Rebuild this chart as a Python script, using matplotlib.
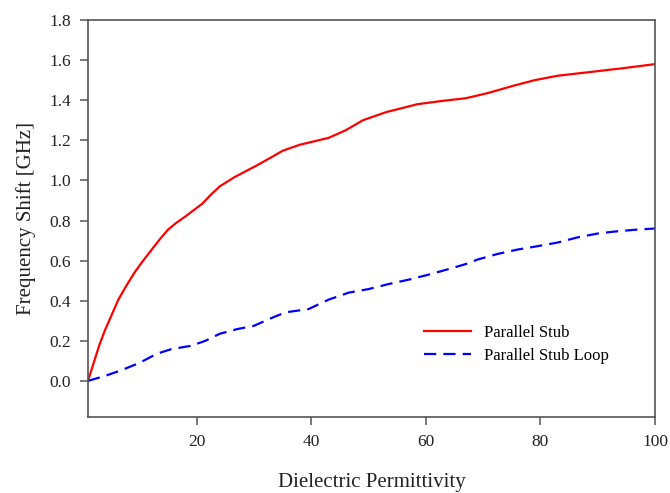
import matplotlib
matplotlib.use("Agg")
import matplotlib.pyplot as plt

# Frequency shift vs. dielectric permittivity
stub_eps = [1, 1.5, 2, 3, 4, 5, 6.3, 7.5, 9, 10.5, 12, 13.5, 15, 16.5, 18, 21,
            22.5, 24, 26.5, 28.5, 30.5, 33, 35, 38, 40.5, 43, 46, 49, 53, 58.5,
            63, 67, 71, 75, 79, 83, 88.5, 94.5, 100]
stub_shift = [0.0, 0.045, 0.09, 0.18, 0.255, 0.32, 0.405, 0.465, 0.535, 0.595,
              0.65, 0.705, 0.755, 0.79, 0.82, 0.885, 0.93, 0.97, 1.015, 1.045,
              1.075, 1.115, 1.148, 1.178, 1.195, 1.212, 1.25, 1.3, 1.34, 1.38,
              1.397, 1.41, 1.437, 1.47, 1.5, 1.522, 1.54, 1.56, 1.58]

loop_eps = [1, 4, 7, 10, 13, 15.5, 19, 21.5, 24, 27, 30, 33, 35.5, 39.5, 43,
            46.5, 50, 53.5, 57, 60.5, 64, 67, 69, 72.5, 76, 79.5, 83, 86.5,
            90, 93, 97, 100]
loop_shift = [0.0, 0.025, 0.055, 0.09, 0.135, 0.158, 0.175, 0.2, 0.235, 0.258,
              0.275, 0.313, 0.342, 0.358, 0.405, 0.44, 0.458, 0.483, 0.505,
              0.53, 0.558, 0.583, 0.605, 0.633, 0.655, 0.672, 0.69, 0.716,
              0.735, 0.745, 0.755, 0.76]

x_ticks = [20, 40, 60, 80, 100]
y_ticks = [0.0, 0.2, 0.4, 0.6, 0.8, 1.0, 1.2, 1.4, 1.6, 1.8]

plt.rcParams['font.family'] = ['Liberation Serif', 'DejaVu Serif']

fig = plt.figure(figsize=(6.7, 4.93), dpi=100)
ax = fig.add_axes([0.1313, 0.1542, 0.8463, 0.8052])

ax.plot(stub_eps, stub_shift, color='#ff0000', lw=1.6, label='Parallel Stub',
        solid_joinstyle='round')
ax.plot(loop_eps, loop_shift, color='#0000ff', lw=1.6, dashes=(5.5, 3.2),
        label='Parallel Stub Loop')

ax.set_xlim(1, 100)
ax.set_ylim(-0.18, 1.8)
ax.set_xticks(x_ticks)
ax.set_yticks(y_ticks)
ax.set_yticklabels([f"{v:.1f}" for v in y_ticks])

for s in ax.spines.values():
    s.set_color('#555555')
    s.set_linewidth(1.2)
ax.tick_params(direction='out', length=6, width=1.1, color='#555555',
               labelsize=12.5, labelcolor='#222222', pad=6)

ax.set_xlabel('Dielectric Permittivity', fontsize=15, color='#222222', labelpad=17)
ax.set_ylabel('Frequency Shift [GHz]', fontsize=15, color='#222222', labelpad=10)

ax.legend(loc='lower right', bbox_to_anchor=(0.945, 0.095), frameon=False,
          fontsize=12, handlelength=2.8, handletextpad=0.8, labelspacing=0.45)

fig.savefig('out.png', dpi=100)
